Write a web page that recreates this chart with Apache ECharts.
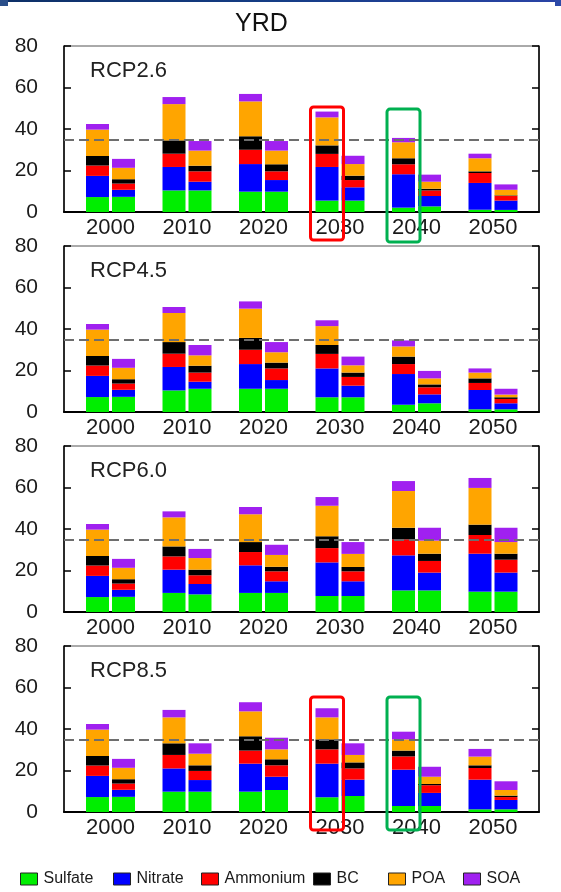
<!DOCTYPE html>
<html>
<head>
<meta charset="utf-8">
<title>YRD PM2.5 composition</title>
<script src="https://cdn.jsdelivr.net/npm/echarts@6/dist/echarts.min.js"></script>
<style>
  html, body { margin: 0; padding: 0; background: #fff; }
  #chart { width: 561px; height: 892px; }
</style>
</head>
<body>
<div id="chart"></div>
<script>
// Categories
const years = ['2000', '2010', '2020', '2030', '2040', '2050'];
const species = ['Sulfate', 'Nitrate', 'Ammonium', 'BC', 'POA', 'SOA'];
const scenarios = ['RCP2.6', 'RCP4.5', 'RCP6.0', 'RCP8.5'];
const yTicks = [0, 20, 40, 60, 80];
const threshold = 35;

// Each row is one year: [Sulfate, Nitrate, Ammonium, BC, POA, SOA]
// First bar of each pair
const rcp26First = [
  [7.2, 10.2, 5.0, 4.6, 12.7, 2.7],
  [10.4, 11.3, 6.4, 6.4, 17.5, 3.4],
  [9.8, 13.3, 6.9, 6.5, 16.8, 3.6],
  [5.5, 16.2, 6.3, 4.1, 13.5, 2.8],
  [2.1, 16.1, 4.8, 2.9, 7.7, 2.1],
  [1.1, 12.9, 4.8, 0.8, 6.3, 2.2]
];
// Second bar of each pair
const rcp26Second = [
  [7.3, 3.4, 3.0, 2.1, 5.5, 4.3],
  [10.4, 4.2, 5.0, 2.7, 7.3, 4.6],
  [9.8, 5.6, 4.2, 3.4, 6.6, 4.6],
  [5.5, 6.4, 3.5, 2.1, 5.6, 4.0],
  [2.7, 5.0, 2.7, 0.8, 3.4, 3.4],
  [1.0, 4.5, 2.2, 0.3, 2.7, 2.6]
];
const rcp45First = [
  [7.2, 10.2, 5.0, 4.6, 12.7, 2.7],
  [10.4, 11.3, 6.4, 5.6, 14.0, 2.9],
  [11.2, 11.9, 6.9, 5.7, 14.1, 3.5],
  [7.1, 13.9, 7.0, 4.3, 9.1, 2.8],
  [3.5, 14.8, 4.8, 3.6, 4.9, 2.9],
  [1.3, 9.3, 3.4, 2.2, 2.8, 2.0]
];
const rcp45Second = [
  [7.3, 3.4, 3.0, 2.1, 5.5, 4.3],
  [11.2, 3.4, 4.4, 3.3, 5.0, 5.0],
  [11.2, 4.2, 5.6, 2.8, 5.0, 4.9],
  [7.1, 5.6, 4.2, 2.1, 3.5, 4.2],
  [4.2, 4.3, 3.4, 1.4, 2.9, 3.6],
  [1.3, 2.9, 2.1, 0.8, 1.3, 2.8]
];
const rcp60First = [
  [7.2, 10.2, 5.0, 4.6, 12.7, 2.7],
  [9.2, 11.2, 6.4, 4.8, 14.0, 2.9],
  [9.2, 13.3, 6.4, 4.8, 13.4, 3.5],
  [7.7, 16.2, 6.9, 5.7, 14.7, 4.2],
  [10.4, 16.9, 7.7, 5.6, 17.7, 4.8],
  [9.8, 18.3, 9.0, 5.0, 17.7, 4.8]
];
const rcp60Second = [
  [7.3, 3.4, 3.0, 2.1, 5.5, 4.3],
  [8.5, 5.0, 4.2, 2.7, 5.6, 4.4],
  [9.2, 5.6, 4.8, 2.2, 5.7, 4.9],
  [7.7, 7.1, 4.8, 2.1, 6.3, 5.7],
  [10.4, 8.6, 5.6, 3.5, 6.3, 6.2],
  [9.8, 9.2, 6.2, 2.9, 5.6, 6.9]
];
const rcp85First = [
  [7.2, 10.2, 5.0, 4.6, 12.7, 2.7],
  [9.8, 11.2, 6.5, 5.6, 12.5, 3.6],
  [9.8, 13.5, 6.3, 6.9, 12.0, 4.4],
  [7.1, 16.2, 6.9, 4.8, 10.6, 4.4],
  [2.9, 17.5, 6.4, 2.8, 5.4, 3.7],
  [1.3, 14.3, 5.6, 1.3, 4.2, 3.7]
];
const rcp85Second = [
  [7.3, 3.4, 3.0, 2.1, 5.5, 4.3],
  [9.8, 5.6, 4.4, 2.7, 5.6, 5.0],
  [10.6, 6.4, 5.5, 2.9, 4.8, 5.6],
  [7.7, 7.9, 5.4, 2.9, 3.6, 5.6],
  [2.9, 6.3, 3.7, 0.6, 3.5, 4.8],
  [1.3, 4.5, 1.4, 0.7, 2.7, 4.2]
];

const panelRows = [
  [rcp26First, rcp26Second],
  [rcp45First, rcp45Second],
  [rcp60First, rcp60Second],
  [rcp85First, rcp85Second]
];

// Boxes drawn around selected bars: panel, year, bar in pair, top value
const callouts = [
  { panel: 0, year: '2030', bar: 0, top: 50.6, below: 28, color: '#ff0000' },
  { panel: 0, year: '2040', bar: 0, top: 49.6, below: 30, color: '#00b050' },
  { panel: 3, year: '2030', bar: 0, top: 55.4, below: 18, color: '#ff0000' },
  { panel: 3, year: '2040', bar: 0, top: 55.4, below: 18, color: '#00b050' }
];

// ---- styling ----
const colors = ['#00ee00', '#0000ff', '#ff0000', '#000000', '#ffa500', '#a020f0'];
const font = "'Liberation Sans', Arial, Helvetica, sans-serif";
const textColor = '#1a1a1a';
const frameLeft = 64, frameWidth = 475;
const barAreaLeft = 72.25, barAreaWidth = 459;
const panelTop0 = 46, panelStep = 200, panelHeight = 166;
const barWidth = 23, barGapPct = 13;
const legendX = [20, 113, 201, 313, 388, 463];

const chart = echarts.init(document.getElementById('chart'), null, { renderer: 'canvas' });

const grid = [], xAxis = [], yAxis = [], series = [], title = [];

title.push({
  text: 'YRD', left: 230, top: 7,
  textStyle: { fontFamily: font, fontSize: 25, fontWeight: 'normal', color: '#111' }
});

scenarios.forEach((name, p) => {
  const top = panelTop0 + p * panelStep;
  // frame grid (box, y axes, dashed reference) and bar grid (bars, year labels)
  grid.push({ left: frameLeft, top, width: frameWidth, height: panelHeight,
              show: true, borderColor: '#555', borderWidth: 1, backgroundColor: 'transparent' });
  grid.push({ left: barAreaLeft, top, width: barAreaWidth, height: panelHeight });

  xAxis.push({
    gridIndex: 2 * p, type: 'value', min: 0, max: 1,
    axisLine: { show: true, onZero: false, lineStyle: { color: '#000', width: 2.2 } },
    axisTick: { show: false }, axisLabel: { show: false }, splitLine: { show: false }
  });
  xAxis.push({
    gridIndex: 2 * p + 1, type: 'category', data: years,
    axisLine: { show: false }, axisTick: { show: false },
    axisLabel: { interval: 0, fontFamily: font, fontSize: 22, color: textColor, margin: 5 }
  });

  const yCommon = {
    gridIndex: 2 * p, type: 'value', min: yTicks[0], max: yTicks[yTicks.length - 1],
    interval: yTicks[1] - yTicks[0],
    axisLine: { show: true, onZero: false, lineStyle: { color: '#000', width: 1.5 } },
    axisTick: { show: true, inside: true, length: 7, lineStyle: { color: '#000', width: 1.5 } },
    splitLine: { show: false }
  };
  yAxis.push(Object.assign({}, yCommon, {
    position: 'left',
    axisLabel: { fontFamily: font, fontSize: 21, color: textColor, margin: 26 }
  }));
  yAxis.push(Object.assign({}, yCommon, { position: 'right', axisLabel: { show: false } }));
  yAxis.push({ gridIndex: 2 * p + 1, type: 'value', min: 0, max: 80, show: false });

  title.push({
    text: name, left: 85, top: top + 9,
    textStyle: { fontFamily: font, fontSize: 22, fontWeight: 'normal', color: '#222' }
  });

  panelRows[p].forEach((rows, b) => {
    species.forEach((sp, s) => {
      series.push({
        type: 'bar', name: sp, stack: 'p' + p + 'b' + b,
        xAxisIndex: 2 * p + 1, yAxisIndex: 3 * p + 2,
        barWidth, barGap: barGapPct + '%',
        itemStyle: { color: colors[s] },
        emphasis: { disabled: true },
        data: rows.map(r => r[s])
      });
    });
  });

  // dashed reference line across the full frame
  series.push({
    type: 'line', name: 'ref' + p, data: [], z: 6,
    xAxisIndex: 2 * p, yAxisIndex: 3 * p,
    markLine: {
      silent: true, symbol: 'none', label: { show: false },
      lineStyle: { color: '#6e6e6e', type: [10, 5], width: 2 },
      data: [{ yAxis: threshold }]
    }
  });
});

const legend = species.map((sp, i) => ({
  data: [sp], left: legendX[i], top: 871, padding: 0,
  icon: 'rect', itemWidth: 17, itemHeight: 12, itemGap: 6,
  itemStyle: { borderColor: '#222', borderWidth: 1 },
  textStyle: { fontFamily: font, fontSize: 16, color: textColor, padding: [0, 0, 0, 1] }
}));

chart.setOption({
  animation: false,
  backgroundColor: '#fff',
  title, grid, xAxis, yAxis, series, legend
});

// header strip and highlight boxes, placed from the axes
const elements = [
  { type: 'rect', left: 0, top: 0, shape: { width: 561, height: 2 }, silent: true,
    style: { fill: new echarts.graphic.LinearGradient(0, 0, 1, 0, [
      { offset: 0, color: '#0d2f66' }, { offset: 0.5, color: '#153d86' }, { offset: 1, color: '#2a43a6' }
    ]) } },
  { type: 'rect', left: 0, top: 0, shape: { width: 8, height: 6 }, silent: true,
    style: { fill: '#2b4f8a' } },
  { type: 'rect', left: 555, top: 0, shape: { width: 6, height: 6 }, silent: true,
    style: { fill: '#2d4aa8' } }
];
const halfStep = (barWidth + barWidth * barGapPct / 100) / 2;
callouts.forEach(c => {
  const finder = { xAxisIndex: 2 * c.panel + 1, yAxisIndex: 3 * c.panel + 2 };
  const idx = years.indexOf(c.year);
  const topPt = chart.convertToPixel(finder, [idx, c.top]);
  const basePt = chart.convertToPixel(finder, [idx, 0]);
  const cx = topPt[0] + (c.bar === 0 ? -halfStep : halfStep);
  const w = 33;
  elements.push({
    type: 'rect', silent: true, z: 100,
    shape: { x: cx - w / 2, y: topPt[1], width: w, height: basePt[1] + c.below - topPt[1], r: 3 },
    style: { fill: 'none', stroke: c.color, lineWidth: 3 }
  });
});
chart.setOption({ graphic: { elements } });
</script>
</body>
</html>
